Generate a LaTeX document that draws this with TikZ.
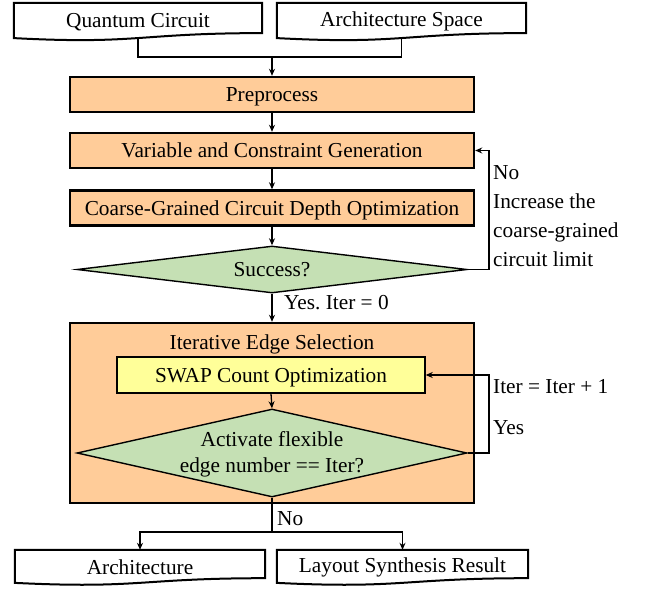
\documentclass[tikz,border=0pt]{standalone}
\usepackage{fontspec}
\setmainfont{Liberation Serif}
\usetikzlibrary{shapes.geometric,arrows.meta,calc}
\definecolor{boxorange}{RGB}{255,204,153}
\definecolor{decgreen}{RGB}{197,224,180}
\definecolor{swapyellow}{RGB}{255,255,153}
\frenchspacing
\newcommand{\docoutline}[1]{\draw[docline] (#1.north west) -- (#1.north east) -- ($(#1.north east)!0.802!(#1.south east)$) .. controls ($(#1.north)!0.802!(#1.south)$) and ($(#1.north)!1.107!(#1.south)$) .. ($(#1.north west)!0.934!(#1.south west)$) -- cycle;}
\begin{document}
\begin{tikzpicture}[x=1pt,y=-1pt,
  font=\fontsize{21.3}{25}\selectfont,
  docbox/.style={draw=none, rectangle, inner sep=0pt},
  docline/.style={line width=2pt, line join=miter},
  proc/.style={draw, line width=2.4pt, fill=boxorange, rectangle, minimum width=404pt, minimum height=35pt, inner sep=0pt, text height=14pt, text depth=0pt},
  swapbox/.style={draw, line width=1.4pt, fill=swapyellow, rectangle, minimum width=308pt, minimum height=36pt, inner sep=0pt, text height=14pt, text depth=0pt},
  dec/.style={draw, line width=1.4pt, fill=decgreen, diamond, inner sep=0pt, aspect=4},
  plain/.style={line width=1.3pt},
  conn/.style={line width=1.3pt, -{Stealth[length=7pt,width=6pt]}},
  lbl/.style={inner sep=0pt, anchor=west, align=left}
]
\useasboundingbox (0,0) rectangle (660,591);

% top documents
\node[docbox, minimum width=248pt, minimum height=37.4pt] (qc) at (138,21.7) {Quantum Circuit};
\node[docbox, minimum width=249pt, minimum height=37.4pt] (as) at (401.5,21.7) {Architecture Space};
\docoutline{qc}
\docoutline{as}
\coordinate (merge) at (272,57);

% main flow
\node[proc] (pre) at (272,94.5) {Preprocess};
\node[proc] (var) at (272,150.5) {Variable and Constraint Generation};
\node[proc] (coarse) at (272,208) {Coarse-Grained Circuit Depth Optimization};
\node[dec, minimum width=390pt, minimum height=47pt] (succ) at (272,269.5) {};
\node[inner sep=0pt, text height=14pt, text depth=0pt] (succtext) at (272,269.5) {Success?};

% iterative block
\node[proc, minimum height=180pt] (iter) at (272,413) {};
\node[inner sep=0pt, text height=14pt, text depth=0pt] (itertitle) at (272,342) {Iterative Edge Selection};
\node[swapbox] (swap) at (271,375) {SWAP Count Optimization};
\node[dec, minimum width=390pt, minimum height=88pt] (act) at (272,453) {};
\node[align=center, inner sep=0pt, font=\fontsize{21.3}{26}\selectfont] (acttext) at (272,454) {Activate flexible\\edge number == Iter?};

% bottom documents
\node[docbox, minimum width=250pt, minimum height=35pt] (arch) at (140,567.5) {Architecture};
\node[docbox, minimum width=251pt, minimum height=35pt] (lsr) at (402.5,567.5) {Layout Synthesis Result};
\docoutline{arch}
\docoutline{lsr}

\coordinate (loopx) at (489,0);
\coordinate (split) at (272,532);

% connectors
\draw[plain] ($(qc.north)!0.933!(qc.south)$) |- (merge) -| ($(as.north)!0.933!(as.south)$);
\draw[conn] (merge) -- (pre.north);
\draw[conn] (pre.south) -- (var.north);
\draw[conn] (var.south) -- (coarse.north);
\draw[conn] (coarse.south) -- (succ.north);
\draw[conn] (succ.east) -- (succ.east -| loopx) |- (var.east);
\draw[conn] (succ.south) -- (iter.north);
\draw[conn] (swap.south) -- (act.north);
\draw[conn] (act.east) -- (act.east -| loopx) |- (swap.east);
\draw[plain] (act.south) -- (split);
\draw[conn] (split) -| (arch.north);
\draw[conn] (split) -| (lsr.north);

% labels
\node[lbl, font=\fontsize{21.3}{29}\selectfont] (nolbl) at (493,216) {No\\Increase the\\coarse-grained\\circuit limit};
\node[lbl] (yeslbl) at (284,303) {Yes. Iter = 0};
\node[lbl] (inclbl) at (493,387) {Iter = Iter + 1};
\node[lbl] (yes2lbl) at (493,428) {Yes};
\node[lbl] (no2lbl) at (277,519) {No};
\end{tikzpicture}
\end{document}
